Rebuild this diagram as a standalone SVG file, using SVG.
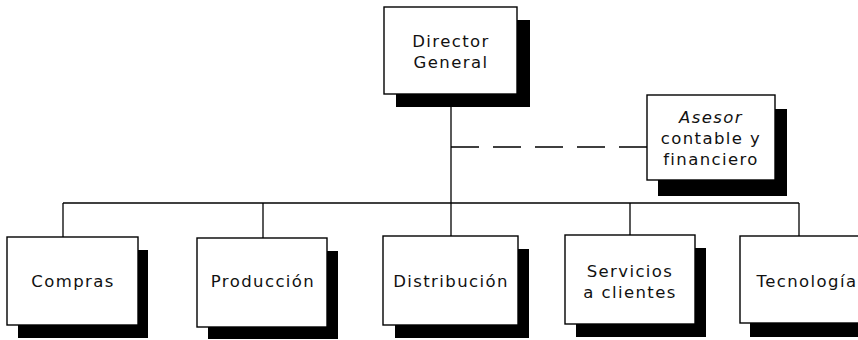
<svg xmlns="http://www.w3.org/2000/svg" width="858" height="340" viewBox="0 0 858 340">
  <defs>
    <style>
      .box { fill: #ffffff; stroke: #000000; stroke-width: 1.4; }
      .shadow { fill: #000000; }
      .lbl { font-family: "DejaVu Sans", "Liberation Sans", sans-serif; font-size: 16.5px; fill: #111111; text-anchor: middle; letter-spacing: 1.4px; }
      .it { font-style: italic; }
      .line { stroke: #000000; stroke-width: 1.3; fill: none; }
      .dash { stroke: #000000; stroke-width: 1.5; fill: none; stroke-dasharray: 28 14; }
    </style>
  </defs>

  <rect width="858" height="340" fill="#ffffff"/>

  <!-- connectors -->
  <g id="connectors">
    <line class="line" x1="451" y1="94" x2="451" y2="203"/>
    <line class="dash" x1="451" y1="147" x2="647" y2="147"/>
    <line class="line" x1="63" y1="203" x2="799" y2="203"/>
    <line class="line" x1="63" y1="203" x2="63" y2="237"/>
    <line class="line" x1="263" y1="203" x2="263" y2="238"/>
    <line class="line" x1="451" y1="203" x2="451" y2="236"/>
    <line class="line" x1="630" y1="203" x2="630" y2="235"/>
    <line class="line" x1="799" y1="203" x2="799" y2="236"/>
  </g>

  <!-- Director General -->
  <g id="director">
    <rect class="shadow" x="396" y="20" width="134" height="87"/>
    <rect class="box" x="384" y="7" width="133" height="87"/>
    <text class="lbl" x="451" y="47">Director</text>
    <text class="lbl" x="451" y="68">General</text>
  </g>

  <!-- Asesor contable y financiero -->
  <g id="asesor">
    <rect class="shadow" x="658" y="109" width="129" height="87"/>
    <rect class="box" x="647" y="95" width="128" height="85"/>
    <text class="lbl it" x="711" y="123">Asesor</text>
    <text class="lbl" x="711" y="144">contable y</text>
    <text class="lbl" x="711" y="165">financiero</text>
  </g>

  <!-- Compras -->
  <g id="compras">
    <rect class="shadow" x="18" y="250" width="130" height="88"/>
    <rect class="box" x="7" y="237" width="131" height="88"/>
    <text class="lbl" x="73" y="287">Compras</text>
  </g>

  <!-- Producción -->
  <g id="produccion">
    <rect class="shadow" x="208" y="251" width="130" height="88"/>
    <rect class="box" x="197" y="238" width="130" height="89"/>
    <text class="lbl" x="263" y="287">Producción</text>
  </g>

  <!-- Distribución -->
  <g id="distribucion">
    <rect class="shadow" x="395" y="249" width="134" height="89"/>
    <rect class="box" x="383" y="236" width="135" height="89"/>
    <text class="lbl" x="451" y="287">Distribución</text>
  </g>

  <!-- Servicios a clientes -->
  <g id="servicios">
    <rect class="shadow" x="576" y="248" width="130" height="89"/>
    <rect class="box" x="565" y="235" width="130" height="89"/>
    <text class="lbl" x="630" y="277">Servicios</text>
    <text class="lbl" x="630" y="298">a clientes</text>
  </g>

  <!-- Tecnología -->
  <g id="tecnologia">
    <rect class="shadow" x="750" y="249" width="130" height="88"/>
    <rect class="box" x="740" y="236" width="130" height="87"/>
    <text class="lbl" x="807" y="287">Tecnología</text>
  </g>
</svg>
